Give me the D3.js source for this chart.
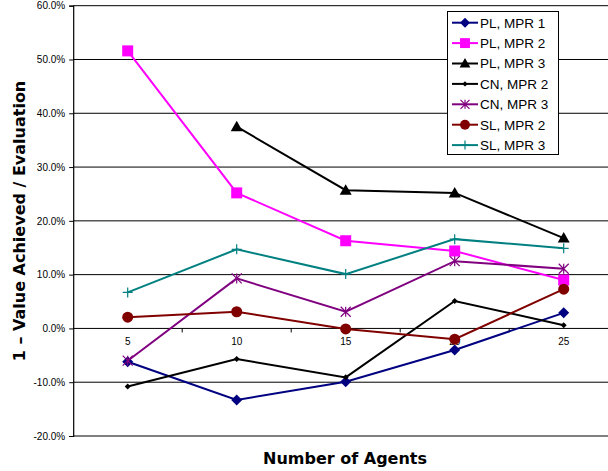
<!DOCTYPE html>
<html>
<head>
<meta charset="utf-8">
<script src="https://cdn.jsdelivr.net/npm/d3@7/dist/d3.min.js"></script>
<style>
  html, body { margin: 0; padding: 0; background: #fff; }
  svg { display: block; }
  text { font-family: "Liberation Sans", Arial, sans-serif; }
  text.title { font-family: "DejaVu Sans", Verdana, sans-serif; font-weight: bold; }
</style>
</head>
<body>
<svg id="chart" width="608" height="471"></svg>
<script>
// Number of agents on the horizontal axis
const categories = ["5", "10", "15", "20", "25"];
const yTicks = [-20, -10, 0, 10, 20, 30, 40, 50, 60];

// Series values, in percent (null = no run)
const plMpr1 = [-6.2, -13.3, -9.9, -4.0, 2.9];
const plMpr2 = [51.6, 25.2, 16.3, 14.4, 9.0];
const plMpr3 = [null, 37.5, 25.7, 25.2, 16.8];
const cnMpr2 = [-10.8, -5.7, -9.1, 5.1, 0.6];
const cnMpr3 = [-6.0, 9.3, 3.1, 12.5, 11.1];
const slMpr2 = [2.1, 3.1, -0.1, -2.0, 7.3];
const slMpr3 = [6.7, 14.7, 10.1, 16.6, 14.9];

const seriesNames = ["PL, MPR 1", "PL, MPR 2", "PL, MPR 3", "CN, MPR 2", "CN, MPR 3", "SL, MPR 2", "SL, MPR 3"];
const seriesValues = [plMpr1, plMpr2, plMpr3, cnMpr2, cnMpr3, slMpr2, slMpr3];
const seriesColors = ["#000080", "#FF00FF", "#000000", "#000000", "#800080", "#800000", "#008080"];
const seriesMarkers = ["diamond", "square", "triangle", "smalldiamond", "asterisk", "circle", "plus"];

const svg = d3.select("#chart");
const plot = { left: 73.2, top: 5.7, bottom: 436 };

const x = d3.scaleBand().domain(categories).range([plot.left, plot.left + 5 * 109]).padding(0);
const xc = c => x(c) + x.bandwidth() / 2;
const y = d3.scaleLinear().domain([-20, 60]).range([plot.bottom, plot.top]);

// Horizontal gridlines
svg.append("g").selectAll("line").data(yTicks).join("line")
  .attr("x1", plot.left).attr("x2", 608)
  .attr("y1", d => y(d)).attr("y2", d => y(d))
  .attr("stroke", "#000").attr("stroke-width", 1);

// Vertical axis with percent labels
const yAxis = d3.axisLeft(y).tickValues(yTicks).tickSize(4).tickPadding(4)
  .tickFormat(d => d.toFixed(1) + "%");
const gy = svg.append("g").attr("transform", `translate(${plot.left},0)`).call(yAxis);
gy.select(".domain").attr("stroke", "#000").attr("stroke-width", 1.2);
gy.selectAll(".tick line").attr("stroke", "#000");
gy.selectAll(".tick text").attr("font-size", 10).attr("fill", "#000")
  .style("font-family", "Liberation Sans, Arial, sans-serif");

// Category axis crossing at zero
const xAxis = d3.axisBottom(x).tickSize(0).tickPadding(9);
const gx = svg.append("g").attr("transform", `translate(0,${y(0)})`).call(xAxis);
gx.select(".domain").remove();
gx.selectAll(".tick text").attr("font-size", 10).attr("fill", "#000")
  .style("font-family", "Liberation Sans, Arial, sans-serif");
// Tick marks between categories
svg.append("g").selectAll("line").data(categories.slice(1)).join("line")
  .attr("x1", d => x(d)).attr("x2", d => x(d))
  .attr("y1", y(0)).attr("y2", y(0) + 4)
  .attr("stroke", "#000");

// Marker drawing
function drawMarker(g, type, color, cx, cy, s) {
  s = s || 1;
  if (type === "diamond") {
    const r = 5.5 * s;
    g.append("path").attr("d", `M${cx},${cy - r}L${cx + r},${cy}L${cx},${cy + r}L${cx - r},${cy}Z`).attr("fill", color);
  } else if (type === "smalldiamond") {
    const r = 3 * s;
    g.append("path").attr("d", `M${cx},${cy - r}L${cx + r},${cy}L${cx},${cy + r}L${cx - r},${cy}Z`).attr("fill", color);
  } else if (type === "square") {
    const r = 5.5 * s;
    g.append("rect").attr("x", cx - r).attr("y", cy - r).attr("width", 2 * r).attr("height", 2 * r).attr("fill", color);
  } else if (type === "triangle") {
    const r = 6 * s;
    g.append("path").attr("d", `M${cx},${cy - r}L${cx + r},${cy + r * 0.75}L${cx - r},${cy + r * 0.75}Z`).attr("fill", color);
  } else if (type === "circle") {
    g.append("circle").attr("cx", cx).attr("cy", cy).attr("r", 5.5 * s).attr("fill", color);
  } else if (type === "asterisk") {
    const r = 5 * s;
    const p = `M${cx - r},${cy - r}L${cx + r},${cy + r}M${cx - r},${cy + r}L${cx + r},${cy - r}M${cx},${cy - r}L${cx},${cy + r}`;
    g.append("path").attr("d", p).attr("stroke", color).attr("stroke-width", 1.2).attr("fill", "none");
  } else if (type === "plus") {
    const r = 5 * s;
    g.append("path").attr("d", `M${cx - r},${cy}L${cx + r},${cy}M${cx},${cy - r}L${cx},${cy + r}`)
      .attr("stroke", color).attr("stroke-width", 1.2).attr("fill", "none");
  }
}

// Series lines and markers
const line = d3.line().defined(d => d.v !== null).x(d => xc(d.c)).y(d => y(d.v));
seriesValues.forEach((vals, i) => {
  const pts = categories.map((c, j) => ({ c, v: vals[j] }));
  const g = svg.append("g");
  g.append("path").datum(pts).attr("d", line)
    .attr("fill", "none").attr("stroke", seriesColors[i]).attr("stroke-width", 2);
  pts.filter(p => p.v !== null).forEach(p => drawMarker(g, seriesMarkers[i], seriesColors[i], xc(p.c), y(p.v)));
});

// Legend
const lg = svg.append("g");
lg.append("rect").attr("x", 447.5).attr("y", 11.5).attr("width", 111).attr("height", 143)
  .attr("fill", "#fff").attr("stroke", "#000").attr("stroke-width", 1);
seriesNames.forEach((name, i) => {
  const ly = 22.7 + i * 20.4;
  lg.append("line").attr("x1", 452).attr("x2", 478).attr("y1", ly).attr("y2", ly)
    .attr("stroke", seriesColors[i]).attr("stroke-width", 2);
  drawMarker(lg, seriesMarkers[i], seriesColors[i], 465, ly, 0.9);
  lg.append("text").attr("x", 480).attr("y", ly).attr("dy", "0.36em")
    .attr("font-size", 13.5).attr("fill", "#000").text(name);
});

// Axis titles
svg.append("text").attr("class", "title").attr("x", 345).attr("y", 464).attr("text-anchor", "middle")
  .attr("font-size", 16).attr("fill", "#000")
  .text("Number of Agents");
svg.append("text").attr("class", "title").attr("transform", "translate(25,221) rotate(-90)").attr("text-anchor", "middle")
  .attr("font-size", 16).attr("fill", "#000")
  .text("1 – Value Achieved / Evaluation");
</script>
</body>
</html>
